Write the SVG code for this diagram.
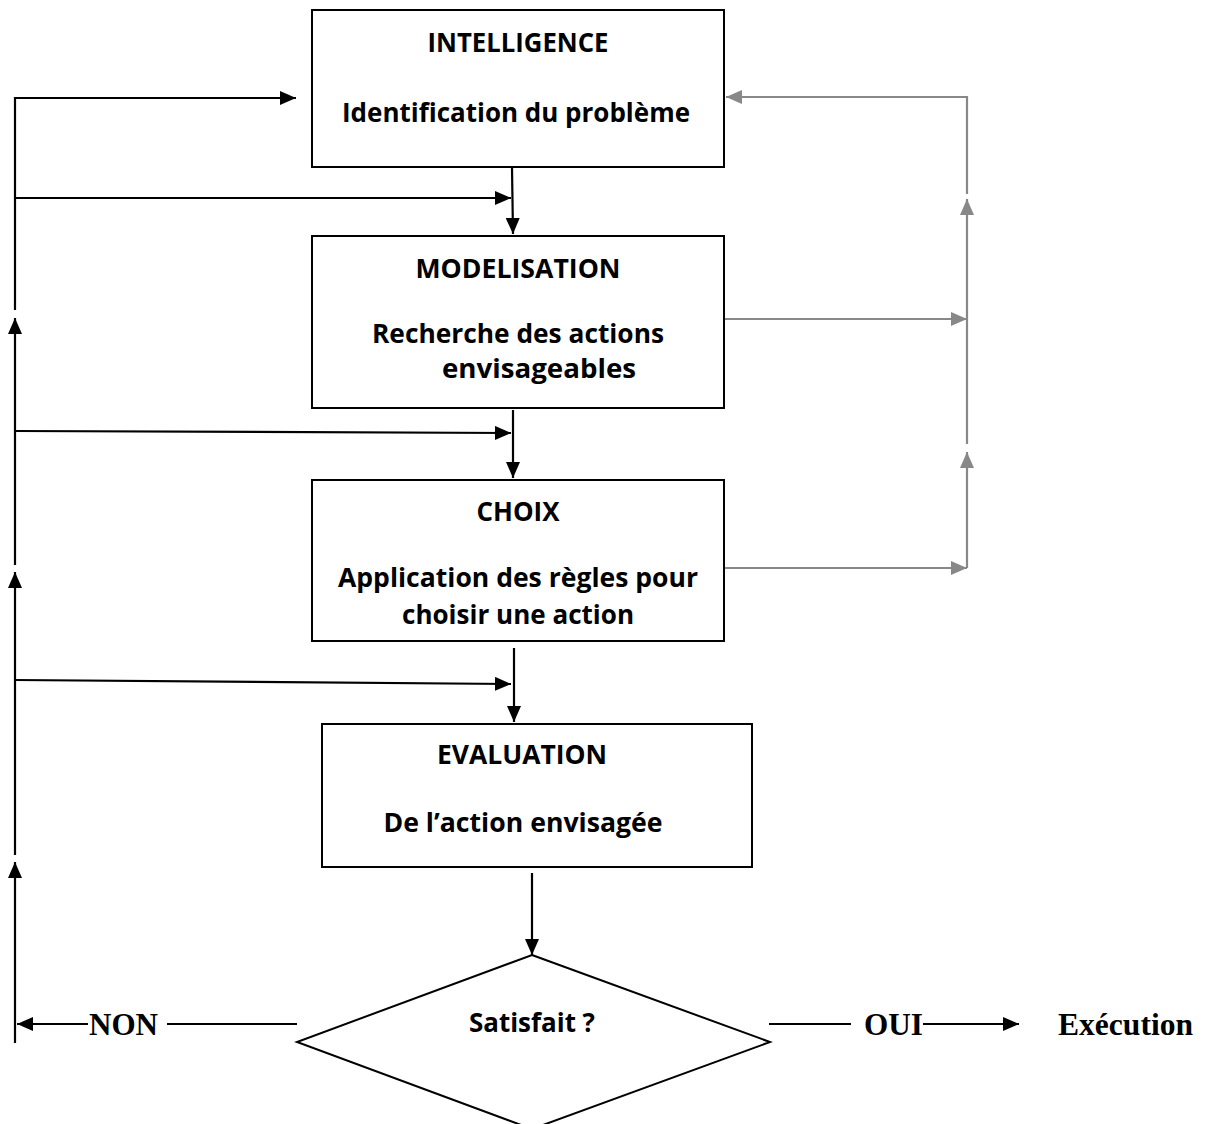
<svg xmlns="http://www.w3.org/2000/svg" width="1206" height="1124" viewBox="0 0 1206 1124">
<style>
.box{fill:#fff;stroke:#000;stroke-width:2}
.t{font-family:"Open Sans",Lato,"Liberation Sans",sans-serif;font-weight:700;font-size:27px;fill:#000;text-anchor:middle}
.s{font-family:"Liberation Serif","Times New Roman",serif;font-weight:700;font-size:32px;fill:#000}
.k{fill:none;stroke:#000;stroke-width:2.2}
.g{fill:none;stroke:#888;stroke-width:2.2}
</style>
<defs>
<marker id="ab" viewBox="0 0 16 14" refX="16" refY="7" markerWidth="16" markerHeight="14" orient="auto" markerUnits="userSpaceOnUse"><path d="M0,0 L16,7 L0,14 z" fill="#000"/></marker>
<marker id="ag" viewBox="0 0 16 14" refX="16" refY="7" markerWidth="16" markerHeight="14" orient="auto" markerUnits="userSpaceOnUse"><path d="M0,0 L16,7 L0,14 z" fill="#888"/></marker>
</defs>
<g id="connectors">
<polyline class="k" points="15,310 15,98 296,98" marker-end="url(#ab)"/>
<line class="k" x1="15" y1="565" x2="15" y2="318" marker-end="url(#ab)"/>
<line class="k" x1="15" y1="855" x2="15" y2="572" marker-end="url(#ab)"/>
<line class="k" x1="15" y1="1043" x2="15" y2="862" marker-end="url(#ab)"/>
<line class="k" x1="15" y1="198" x2="511" y2="198" marker-end="url(#ab)"/>
<line class="k" x1="15" y1="431" x2="511" y2="433" marker-end="url(#ab)"/>
<line class="k" x1="15" y1="680" x2="511" y2="684" marker-end="url(#ab)"/>
<line class="k" x1="512" y1="168" x2="513" y2="234" marker-end="url(#ab)"/>
<line class="k" x1="513" y1="410" x2="513" y2="478" marker-end="url(#ab)"/>
<line class="k" x1="514" y1="648" x2="514" y2="722" marker-end="url(#ab)"/>
<line class="k" x1="532" y1="873" x2="532" y2="955" marker-end="url(#ab)"/>
<line class="k" x1="88" y1="1024" x2="17" y2="1024" marker-end="url(#ab)"/>
<line class="k" x1="167" y1="1024" x2="297" y2="1024"/>
<line class="k" x1="769" y1="1024" x2="851" y2="1024"/>
<line class="k" x1="923" y1="1024" x2="1019" y2="1024" marker-end="url(#ab)"/>
<polyline class="g" points="967,194 967,97 726,97" marker-end="url(#ag)"/>
<line class="g" x1="967" y1="444" x2="967" y2="199" marker-end="url(#ag)"/>
<line class="g" x1="967" y1="568" x2="967" y2="452" marker-end="url(#ag)"/>
<line class="g" x1="724" y1="319" x2="967" y2="319" marker-end="url(#ag)"/>
<line class="g" x1="724" y1="568" x2="967" y2="568" marker-end="url(#ag)"/>
</g>
<g id="intelligence">
<rect class="box" x="312" y="10" width="412" height="157"/>
<text class="t" x="518" y="52" textLength="181" lengthAdjust="spacingAndGlyphs">INTELLIGENCE</text>
<text class="t" x="516" y="122" textLength="348" lengthAdjust="spacingAndGlyphs">Identification du problème</text>
</g>
<g id="modelisation">
<rect class="box" x="312" y="236" width="412" height="172"/>
<text class="t" x="518" y="278" textLength="205" lengthAdjust="spacingAndGlyphs">MODELISATION</text>
<text class="t" x="518" y="343" textLength="292" lengthAdjust="spacingAndGlyphs">Recherche des actions</text>
<text class="t" x="539" y="378" textLength="194" lengthAdjust="spacingAndGlyphs">envisageables</text>
</g>
<g id="choix">
<rect class="box" x="312" y="480" width="412" height="161"/>
<text class="t" x="518" y="521" textLength="83" lengthAdjust="spacingAndGlyphs">CHOIX</text>
<text class="t" x="518" y="587" textLength="360" lengthAdjust="spacingAndGlyphs">Application des règles pour</text>
<text class="t" x="518" y="624" textLength="232" lengthAdjust="spacingAndGlyphs">choisir une action</text>
</g>
<g id="evaluation">
<rect class="box" x="322" y="724" width="430" height="143"/>
<text class="t" x="522" y="764" textLength="170" lengthAdjust="spacingAndGlyphs">EVALUATION</text>
<text class="t" x="523" y="832" textLength="279" lengthAdjust="spacingAndGlyphs">De l’action envisagée</text>
</g>
<g id="satisfait">
<polygon class="box" points="532,955 770,1042 532,1129 297,1042"/>
<text class="t" x="532" y="1032" textLength="126" lengthAdjust="spacingAndGlyphs">Satisfait ?</text>
</g>
<g id="labels">
<text class="s" x="89" y="1035" textLength="69" lengthAdjust="spacingAndGlyphs">NON</text>
<text class="s" x="864" y="1035" textLength="59" lengthAdjust="spacingAndGlyphs">OUI</text>
<text class="s" x="1058" y="1035" textLength="135" lengthAdjust="spacingAndGlyphs">Exécution</text>
</g>
</svg>
